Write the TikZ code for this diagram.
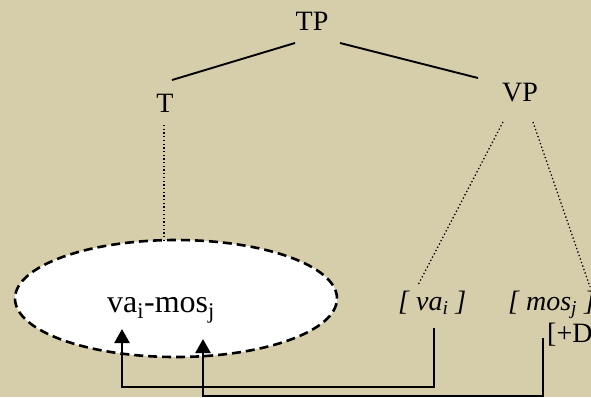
\documentclass[tikz,border=0pt]{standalone}
\usepackage{fontspec}
\setmainfont{Liberation Serif}
\usetikzlibrary{arrows.meta,shapes.geometric}
\definecolor{bg}{RGB}{214,206,171}
\begin{document}
\begin{tikzpicture}[x=1pt,y=-1pt,
  lbl/.style={inner sep=0pt, font=\fontsize{28}{32}\selectfont},
  biglbl/.style={inner sep=0pt, font=\fontsize{32}{36}\selectfont},
  branch/.style={line width=1.9pt},
  dotline/.style={line width=1.3pt, dash pattern=on 1.3pt off 2.4pt},
  link/.style={line width=2.7pt, -{Triangle[length=14pt,width=15pt]}},
  bubble/.style={ellipse, draw, fill=white, line width=2.6pt, dash pattern=on 9pt off 5pt, minimum width=322pt, minimum height=117pt, inner sep=0pt}]
\fill[bg] (0,0) rectangle (591,397);
\useasboundingbox (0,0) rectangle (591,397);
% ellipse
\node[bubble] (ell) at (176,298.5) {};
% labels
\node[lbl, anchor=base] (TP) at (312,30) {TP};
\node[lbl, anchor=base] (T) at (165,112) {T};
\node[lbl, anchor=base] (VP) at (520,101) {VP};
\node[biglbl, anchor=base west] (word) at (107,312) {va\textsubscript{i}-mos\textsubscript{j}};
\node[lbl, anchor=base west] (va) at (398,310) {\itshape [ va\textsubscript{i} ]};
\node[lbl, anchor=base west] (mos) at (508,310) {\itshape [ mos\textsubscript{j} ]};
\node[lbl, anchor=base west] (feat) at (547,342) {[+D]};
% branch end points
\coordinate (tpl) at (295,43);
\coordinate (tl) at (172,80);
\coordinate (tpr) at (340,43);
\coordinate (vpt) at (478,78);
\draw[branch] (tpl) -- (tl);
\draw[branch] (tpr) -- (vpt);
% dotted lines
\coordinate (tb) at (164,125);
\coordinate (et) at (164,241);
\draw[dotline] (tb) -- (et);
\coordinate (vpl) at (503,122);
\coordinate (val) at (418,285);
\coordinate (vpr) at (533,122);
\coordinate (mosr) at (590,287);
\draw[dotline] (vpl) -- (val);
\draw[dotline] (vpr) -- (mosr);
% arrows
\coordinate (s1) at (434,328);
\coordinate (a1) at (122,329);
\coordinate (s2) at (543,338);
\coordinate (a2) at (203,339);
\draw[link] (s1) |- (122,387) -- (a1);
\draw[link] (s2) |- (203,396) -- (a2);
\end{tikzpicture}
\end{document}
